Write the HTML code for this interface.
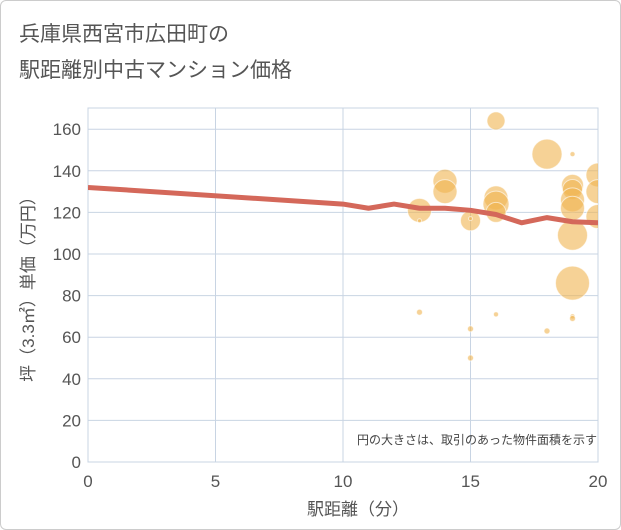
<!DOCTYPE html>
<html><head><meta charset="utf-8"><style>
body{margin:0;background:#fff;font-family:"Liberation Sans","Noto Sans CJK JP",sans-serif;}
#wrap{position:relative;width:619px;height:528px;border:1px solid #ccc;border-radius:6px;overflow:hidden}
</style></head><body>
<div id="wrap">
<svg width="621" height="530" xmlns="http://www.w3.org/2000/svg">
<text x="18" y="40" font-size="21" fill="#555" font-family="Liberation Sans,Noto Sans CJK JP,sans-serif">兵庫県西宮市広田町の</text>
<text x="18" y="76" font-size="21" fill="#555" font-family="Liberation Sans,Noto Sans CJK JP,sans-serif">駅距離別中古マンション価格</text>
<g id="grid"></g>
<defs><clipPath id="clip"><rect x="87" y="107" width="510" height="354"/></clipPath></defs>
<g id="bubbles" clip-path="url(#clip)"></g>
<g id="line" clip-path="url(#clip)"></g>
<g id="ticks"></g>
<text x="596" y="443" font-size="12" fill="#444" text-anchor="end" font-family="Liberation Sans,Noto Sans CJK JP,sans-serif">円の大きさは、取引のあった物件面積を示す</text>
<text x="357" y="514" font-size="17" fill="#555" text-anchor="middle" font-family="Liberation Sans,Noto Sans CJK JP,sans-serif">駅距離（分）</text>
<text transform="translate(33,284) rotate(-90)" font-size="17" fill="#555" text-anchor="middle" font-family="Liberation Sans,Noto Sans CJK JP,sans-serif">坪（3.3㎡）単価（万円）</text>
</svg></div>
<script>
const xTicks=[0,5,10,15,20];
const yTicks=[0,20,40,60,80,100,120,140,160];
const bubX=[13,13,13,14,14,15,15,15,15,16,16,16,16,16,18,18,19,19,19,19,19,19,19,19,19,20,20,20];
const bubY=[121,116,72,135,130,116,117,64,50,164,127,124,120,71,148,63,148,133,131,126,122,109,86,70,69,138,130,118];
const bubR=[12,2,3,12,12,10,2,3,3,9,12,13,10,2.5,15,3,2.5,11,10,12,12,15,17,2.5,3,12,12,12];
const lineX=[0,10,11,12,13,14,15,16,17,18,19,20];
const lineY=[132,124,122,124,122,122,121,119,115,117.5,115.5,115];
const NS="http://www.w3.org/2000/svg";
const sx=v=>87+v*25.5, sy=v=>461-v*2.08;
const grid=document.getElementById('grid'),ticks=document.getElementById('ticks');
function mk(tag,attrs,parent){const e=document.createElementNS(NS,tag);for(const k in attrs)e.setAttribute(k,attrs[k]);parent.appendChild(e);return e;}
mk('rect',{x:87,y:107,width:510,height:354,fill:'none',stroke:'#c8d4e3'},grid);
yTicks.forEach(v=>{
 const l=mk('line',{x1:87,x2:597,y1:sy(v),y2:sy(v),stroke:'#c8d4e3','stroke-width':1},grid);
 
 
 const t=mk('text',{x:80,y:sy(v)+6,'font-size':17,fill:'#555','text-anchor':'end'},ticks);
 t.textContent=v;
 
 
});
xTicks.forEach(v=>{
 const l=mk('line',{x1:sx(v),x2:sx(v),y1:107,y2:461,stroke:'#c8d4e3','stroke-width':1},grid);
 
 
 const t=mk('text',{x:sx(v),y:486,'font-size':17,fill:'#555','text-anchor':'middle'},ticks);
 t.textContent=v;
 
 
});
const bg=document.getElementById('bubbles');
bubX.forEach((x,i)=>{
 const c=mk('circle',{cx:sx(x),cy:sy(bubY[i]),r:bubR[i],fill:'rgba(240,180,80,0.6)',stroke:'rgba(255,255,255,0.6)','stroke-width':1},bg);
 
 
});
const p=mk('polyline',{points:lineX.map((x,i)=>sx(x)+','+sy(lineY[i])).join(' '),fill:'none',stroke:'#d4685a','stroke-width':5,'stroke-linejoin':'round'},document.getElementById('line'));


</script>
</body></html>
